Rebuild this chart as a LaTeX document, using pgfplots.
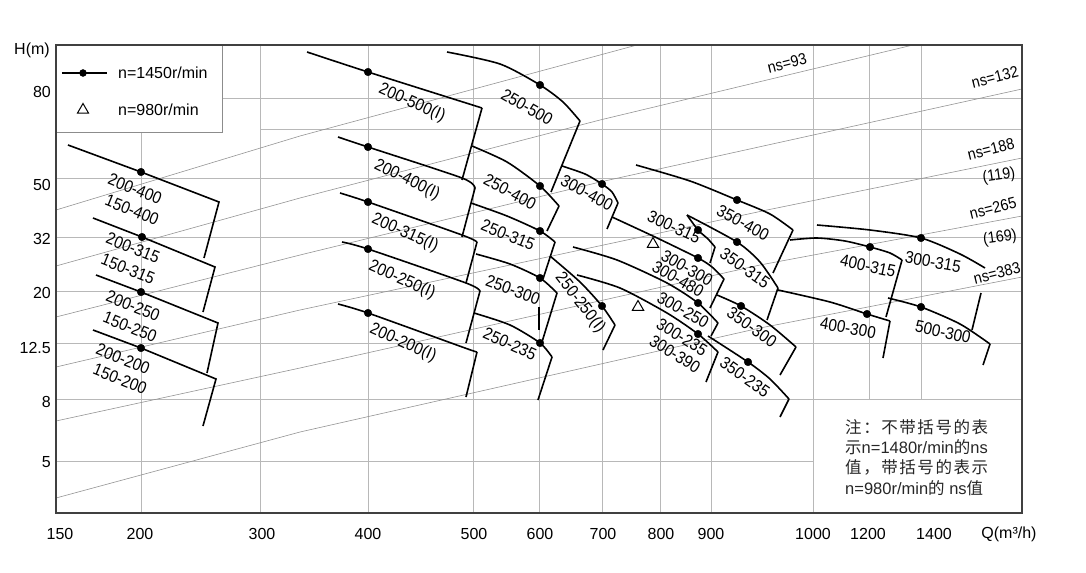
\documentclass[border=0pt]{standalone}
\usepackage{pgfplots}
\pgfplotsset{compat=1.18}
\usepackage{fontspec}
\setmainfont{Liberation Sans}
\newfontfamily\narrowfont{Liberation Sans}[FakeStretch=0.9]
\newfontfamily\cjk{Noto Sans CJK SC}
\newcommand\ticksfont{\fontsize{16bp}{19bp}\selectfont}
\newcommand\lbl{\narrowfont\fontsize{17bp}{19bp}\selectfont}
\newcommand\nslbl{\narrowfont\fontsize{16bp}{18bp}\selectfont}
\newcommand\notefont{\fontsize{16.5bp}{19bp}\selectfont}
\begin{document}
\begin{tikzpicture}
\tikzset{gridl/.style={black!28, line width=0.8bp}}
\pgfplotsset{
  curve/.style={black, line width=1.6bp, no marks, smooth, tension=0.45},
  tail/.style={black, line width=1.6bp, no marks},
  nsline/.style={black!42, line width=0.6bp, no marks},
}
\begin{axis}[
  scale only axis, width=966bp, height=468bp,
  xmin=56, xmax=1022, ymin=45, ymax=513, y dir=reverse,
  clip=false, axis on top,
  axis line style={draw=black!75, line width=1.3bp},
  major tick length=0pt,
  xtick={60,140,262,368,474,540,603,661,711,813,868,934},
  xticklabels={150,200,300,400,500,600,700,800,900,1000,1200,1400},
  ytick={92,185,239,293,348,402,462},
  yticklabels={80,50,32,20,12.5,8,5},
  /pgf/number format/assume math mode=true,
  ticklabel style={font=\ticksfont},
  xticklabel style={anchor=center, yshift=-21bp},
  yticklabel style={anchor=east, inner sep=0pt, xshift=-5bp},
]
% grid
\draw[gridl] (axis cs:141,132) -- (axis cs:141,513);
\pgfplotsinvokeforeach{260,368,473,539,602,660,711,813}{\draw[gridl] (axis cs:#1,45) -- (axis cs:#1,513);}
\pgfplotsinvokeforeach{869,921}{\draw[gridl] (axis cs:#1,45) -- (axis cs:#1,399);}
\draw[gridl] (axis cs:222,98) -- (axis cs:1022,98);
\draw[gridl] (axis cs:260,129) -- (axis cs:1022,129);
\pgfplotsinvokeforeach{178,237,291,343,399}{\draw[gridl] (axis cs:56,#1) -- (axis cs:1022,#1);}
\draw[gridl] (axis cs:56,461) -- (axis cs:813,461);
% ns lines
\addplot[nsline] coordinates {(56,210) (300,136) (600,55) (637,45)};
\addplot[nsline] coordinates {(56,266) (300,198) (600,120) (913,45)};
\addplot[nsline] coordinates {(56,317) (300,255) (600,182) (1022,89)};
\addplot[nsline] coordinates {(56,367) (300,310) (767,210) (1022,158)};
\addplot[nsline] coordinates {(56,421) (300,368) (760,265) (1022,216)};
\addplot[nsline] coordinates {(56,498) (300,432) (760,328) (1022,277)};
% group 150/200
\addplot[tail] coordinates {(68,145) (141,172) (219,202) (204,258)};
\addplot[tail] coordinates {(93,218) (142,237) (215,267) (203,312)};
\addplot[tail] coordinates {(96,275) (141,292) (218,323) (207,373)};
\addplot[tail] coordinates {(93,330) (141,348) (216,379) (203,426)};
% group 200(I)
\addplot[curve] coordinates {(307,52) (368,72) (482,108)};
\addplot[tail] coordinates {(482,108) (462,180)};
\addplot[curve] coordinates {(338,137) (368,147) (462,178) (475,188)};
\addplot[tail] coordinates {(475,188) (462,237)};
\addplot[curve] coordinates {(340,193) (368,202) (462,235) (477,242)};
\addplot[tail] coordinates {(477,242) (466,283)};
\addplot[curve] coordinates {(342,242) (368,249) (466,283) (480,291)};
\addplot[tail] coordinates {(480,291) (466,343)};
\addplot[curve] coordinates {(338,304) (368,313) (465,348) (477,352)};
\addplot[tail] coordinates {(477,352) (466,397)};
% group 250
\addplot[curve] coordinates {(447,52) (500,64) (540,85) (563,102) (580,121)};
\addplot[tail] coordinates {(580,121) (551,192)};
\addplot[curve] coordinates {(472,146) (507,162) (540,186) (559,206)};
\addplot[tail] coordinates {(559,206) (547,231)};
\addplot[curve] coordinates {(471,203) (507,216) (540,231) (555,242)};
\addplot[tail] coordinates {(555,242) (543,279)};
\addplot[curve] coordinates {(476,254) (510,264) (540,278) (557,293)};
\addplot[tail] coordinates {(557,293) (542,342)};
\addplot[tail] coordinates {(539,307) (539,330)};
\addplot[curve] coordinates {(474,313) (510,325) (540,343) (552,357)};
\addplot[tail] coordinates {(552,357) (538,400)};
\addplot[curve] coordinates {(550,256) (580,282) (602,306) (615,325)};
\addplot[tail] coordinates {(615,325) (603,350)};
% group 300
\addplot[curve] coordinates {(562,166) (585,174) (602,184) (612,192) (618,203)};
\addplot[tail] coordinates {(618,203) (607,229)};
\addplot[curve] coordinates {(612,217) (655,237) (698,258) (712,267) (724,279)};
\addplot[tail] coordinates {(724,279) (710,308)};
\addplot[curve] coordinates {(687,215) (698,230) (708,239) (715,247)};
\addplot[tail] coordinates {(715,247) (710,263)};
\addplot[curve] coordinates {(573,247) (617,260) (667,283) (698,303) (718,323)};
\addplot[tail] coordinates {(718,323) (711,336)};
\addplot[curve] coordinates {(577,275) (620,288) (667,313) (698,334) (718,352)};
\addplot[tail] coordinates {(718,352) (706,382)};
% group 350
\addplot[curve] coordinates {(636,165) (690,181) (737,200) (770,214) (793,230)};
\addplot[tail] coordinates {(793,230) (773,273)};
\addplot[curve] coordinates {(687,215) (737,242) (760,262) (778,288)};
\addplot[tail] coordinates {(778,288) (767,320)};
\addplot[curve] coordinates {(717,295) (741,306) (770,325) (796,347)};
\addplot[tail] coordinates {(796,347) (780,375)};
\addplot[curve] coordinates {(708,336) (748,362) (770,379) (789,399)};
\addplot[tail] coordinates {(789,399) (780,417)};
% right group
\addplot[curve] coordinates {(790,240) (817,238) (845,241) (870,247) (890,253) (902,260)};
\addplot[tail] coordinates {(902,260) (886,317)};
\addplot[curve] coordinates {(817,225) (870,230) (921,238) (960,254) (985,268)};
\addplot[tail] coordinates {(981,293) (972,330)};
\addplot[curve] coordinates {(778,290) (830,302) (867,314) (890,321)};
\addplot[tail] coordinates {(890,321) (883,358)};
\addplot[curve] coordinates {(888,298) (921,307) (960,324) (990,344)};
\addplot[tail] coordinates {(990,344) (983,365)};
% rated points n=1450
\addplot[only marks, mark=*, mark size=3.8bp, black] coordinates {
 (141,172) (142,237) (141,292) (141,348)
 (368,72) (368,147) (368,202) (368,249) (368,313)
 (540,85) (540,186) (540,231) (540,278) (540,343)
 (602,184) (602,306)
 (698,230) (698,258) (698,303) (698,334)
 (737,200) (737,242) (741,306) (748,362)
 (870,247) (867,314) (921,238) (921,307)};
% n=980
\addplot[only marks, mark=triangle, mark size=6.5bp, black, line width=1bp] coordinates {(653,244) (638,307)};
% labels
\node[rotate=-22, font=\lbl] at (axis cs:135,189) {200-400};
\node[rotate=-22, font=\lbl] at (axis cs:132,210) {150-400};
\node[rotate=-22, font=\lbl] at (axis cs:133,248) {200-315};
\node[rotate=-22, font=\lbl] at (axis cs:128,269) {150-315};
\node[rotate=-22, font=\lbl] at (axis cs:133,306) {200-250};
\node[rotate=-22, font=\lbl] at (axis cs:130,327) {150-250};
\node[rotate=-22, font=\lbl] at (axis cs:123,359) {200-200};
\node[rotate=-22, font=\lbl] at (axis cs:120,379) {150-200};
\node[rotate=-24, font=\lbl] at (axis cs:412,103) {200-500(I)};
\node[rotate=-30, font=\lbl] at (axis cs:527,107) {250-500};
\node[rotate=-26, font=\lbl] at (axis cs:407,180) {200-400(I)};
\node[rotate=-28, font=\lbl] at (axis cs:510,192) {250-400};
\node[rotate=-24, font=\lbl] at (axis cs:405,233) {200-315(I)};
\node[rotate=-22, font=\lbl] at (axis cs:508,235) {250-315};
\node[rotate=-24, font=\lbl] at (axis cs:402,280) {200-250(I)};
\node[rotate=-20, font=\lbl] at (axis cs:513,290) {250-300};
\node[rotate=-24, font=\lbl] at (axis cs:403,343) {200-200(I)};
\node[rotate=-24, font=\lbl] at (axis cs:510,344) {250-235};
\node[rotate=-52, font=\lbl] at (axis cs:580,303) {250-250(I)};
\node[rotate=-28, font=\lbl] at (axis cs:587,193) {300-400};
\node[rotate=-25, font=\lbl] at (axis cs:674,227) {300-315};
\node[rotate=-30, font=\lbl] at (axis cs:687,268) {300-300};
\node[rotate=-30, font=\lbl] at (axis cs:678,279) {300-480};
\node[rotate=-30, font=\lbl] at (axis cs:683,310) {300-250};
\node[rotate=-32, font=\lbl] at (axis cs:682,337) {300-235};
\node[rotate=-32, font=\lbl] at (axis cs:675,354) {300-390};
\node[rotate=-28, font=\lbl] at (axis cs:743,223) {350-400};
\node[rotate=-35, font=\lbl] at (axis cs:745,268) {350-315};
\node[rotate=-35, font=\lbl] at (axis cs:752,327) {350-300};
\node[rotate=-35, font=\lbl] at (axis cs:745,377) {350-235};
\node[rotate=-12, font=\lbl] at (axis cs:868,266) {400-315};
\node[rotate=-10, font=\lbl] at (axis cs:933,262) {300-315};
\node[rotate=-10, font=\lbl] at (axis cs:848,328) {400-300};
\node[rotate=-12, font=\lbl] at (axis cs:943,332) {500-300};
% ns labels
\node[rotate=14, font=\nslbl] at (axis cs:787,63) {ns=93};
\node[rotate=14, font=\nslbl] at (axis cs:995,77) {ns=132};
\node[rotate=14, font=\nslbl] at (axis cs:991,149) {ns=188};
\node[rotate=8, font=\nslbl] at (axis cs:999,176) {(119)};
\node[rotate=14, font=\nslbl] at (axis cs:993,208) {ns=265};
\node[rotate=8, font=\nslbl] at (axis cs:1000,238) {(169)};
\node[rotate=14, font=\nslbl] at (axis cs:997,273) {ns=383};
% legend
\draw[black!45, line width=0.8bp, fill=white] (axis cs:56,45) rectangle (axis cs:222,132);
\addplot[tail] coordinates {(62,73) (107,73)};
\addplot[only marks, mark=*, mark size=3.5bp, black] coordinates {(83,73)};
\addplot[only marks, mark=triangle, mark size=6.5bp, black, line width=1bp] coordinates {(83,110)};
\node[anchor=west, inner sep=0pt, font=\ticksfont] at (axis cs:118,73) {n=1450r/min};
\node[anchor=west, inner sep=0pt, font=\ticksfont] at (axis cs:118,110) {n=980r/min};
% axis titles
\node[font=\ticksfont] at (axis cs:32,50) {H(m)};
\node[font=\ticksfont] at (axis cs:1009,534) {Q(m³/h)};
% note
\node[anchor=west, inner sep=0pt, font=\notefont, text=black!85] at (axis cs:845,427) {\hbox to 143bp{\cjk 注\hfill：\hfill 不\hfill 带\hfill 括\hfill 号\hfill 的\hfill 表}};
\node[anchor=west, inner sep=0pt, font=\notefont, text=black!85] at (axis cs:845,447) {{\cjk 示}n=1480r/min{\cjk 的}ns};
\node[anchor=west, inner sep=0pt, font=\notefont, text=black!85] at (axis cs:845,467) {\hbox to 143bp{\cjk 值\hfill，\hfill 带\hfill 括\hfill 号\hfill 的\hfill 表\hfill 示}};
\node[anchor=west, inner sep=0pt, font=\notefont, text=black!85] at (axis cs:845,488) {n=980r/min{\cjk 的}\ ns{\cjk 值}};
\coordinate (bbTL) at (axis cs:0,0);
\coordinate (bbBR) at (axis cs:1086,573);
\end{axis}
\pgfresetboundingbox
\useasboundingbox (bbTL) rectangle (bbBR);
\end{tikzpicture}
\end{document}
